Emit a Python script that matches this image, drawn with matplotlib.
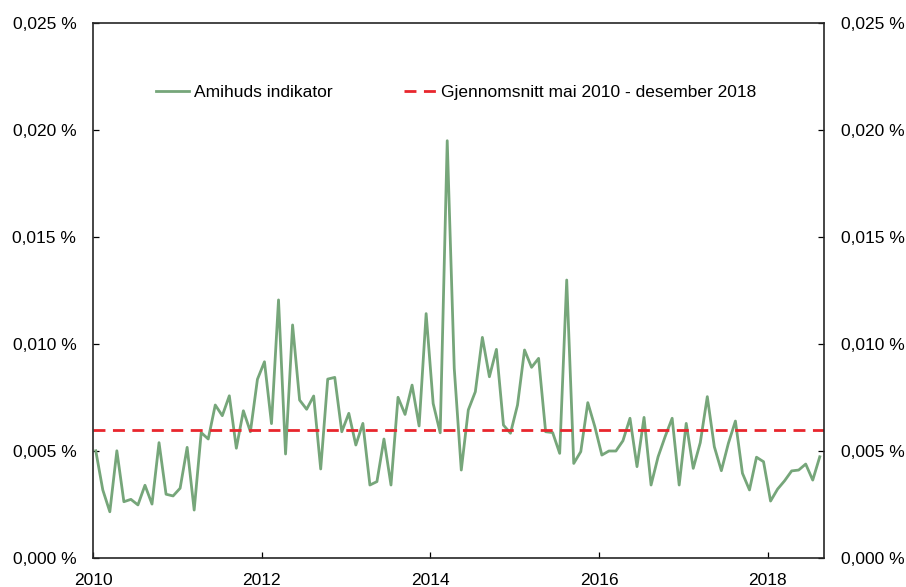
import numpy as np
import pandas as pd
from matplotlib import pyplot as plt
from matplotlib.ticker import FuncFormatter

plt.rcParams['font.family'] = ['Liberation Sans', 'DejaVu Sans']

# %%
# Monthly Amihud illiquidity indicator (in %), Jan 2010 - Aug 2018
amihud = [
    0.00501, 0.00318, 0.00216, 0.00501, 0.00263, 0.00274, 0.00248, 0.00340, 0.00252, 0.00539, 0.00298, 0.00290,
    0.00326, 0.00517, 0.00224, 0.00586, 0.00556, 0.00715, 0.00665, 0.00758, 0.00513, 0.00688, 0.00590, 0.00835,
    0.00917, 0.00628, 0.01206, 0.00486, 0.01089, 0.00738, 0.00695, 0.00757, 0.00416, 0.00836, 0.00844, 0.00590,
    0.00676, 0.00528, 0.00629, 0.00341, 0.00357, 0.00556, 0.00341, 0.00751, 0.00671, 0.00808, 0.00617, 0.01142,
    0.00722, 0.00585, 0.01950, 0.00886, 0.00411, 0.00692, 0.00777, 0.01031, 0.00847, 0.00975, 0.00621, 0.00583,
    0.00715, 0.00972, 0.00891, 0.00933, 0.00590, 0.00586, 0.00489, 0.01299, 0.00442, 0.00497, 0.00726, 0.00614,
    0.00481, 0.00500, 0.00500, 0.00548, 0.00653, 0.00427, 0.00657, 0.00341, 0.00473, 0.00567, 0.00653, 0.00341,
    0.00629, 0.00419, 0.00539, 0.00754, 0.00520, 0.00408, 0.00536, 0.00640, 0.00396, 0.00318, 0.00471, 0.00450,
    0.00266, 0.00322, 0.00361, 0.00407, 0.00411, 0.00439, 0.00364, 0.00473,
]
dates = pd.date_range("2010-01-01", periods=len(amihud), freq="MS")
mean_value = 0.0060

y_ticks = [0.000, 0.005, 0.010, 0.015, 0.020, 0.025]
x_ticks = [2010, 2012, 2014, 2016, 2018]

label_series = "Amihuds indikator"
label_mean = "Gjennomsnitt mai 2010 - desember 2018"

# %%
# decimal year, data drawn a bit into the month (like the original)
x = dates.year + (dates.month - 1 + 0.4) / 12

fig = plt.figure(figsize=(9.06, 5.87), dpi=100)
ax = fig.add_axes([0.1026, 0.0494, 0.8069, 0.9114])

ax.plot(x, amihud, color="#76A67A", lw=2.0, label=label_series)
ax.axhline(mean_value, color="#E8262D", lw=2.0, dashes=(4.3, 2.7), label=label_mean)

ax.set_xlim(2010, 2018.667)
ax.set_ylim(0, 0.025)
ax.set_xticks(x_ticks)
ax.set_xticklabels([str(t) for t in x_ticks])
ax.set_yticks(y_ticks)
ax.yaxis.set_major_formatter(FuncFormatter(lambda v, p: f"{v:.3f} %".replace(".", ",")))

ax.tick_params(axis="both", direction="in", labelsize=12.5, colors="#000000", length=4, width=0.9)
ax.tick_params(axis="y", right=True, labelright=True, pad=12)
ax.tick_params(axis="x", pad=11)
for s in ax.spines.values():
    s.set_color("#262626")
    s.set_linewidth(1.2)

ax.legend(loc="center", bbox_to_anchor=(0.497, 0.871), ncol=2, frameon=False,
          fontsize=12.5, handlelength=1.85, columnspacing=4.1, handletextpad=0.3)

fig.savefig("out.png", dpi=100)
